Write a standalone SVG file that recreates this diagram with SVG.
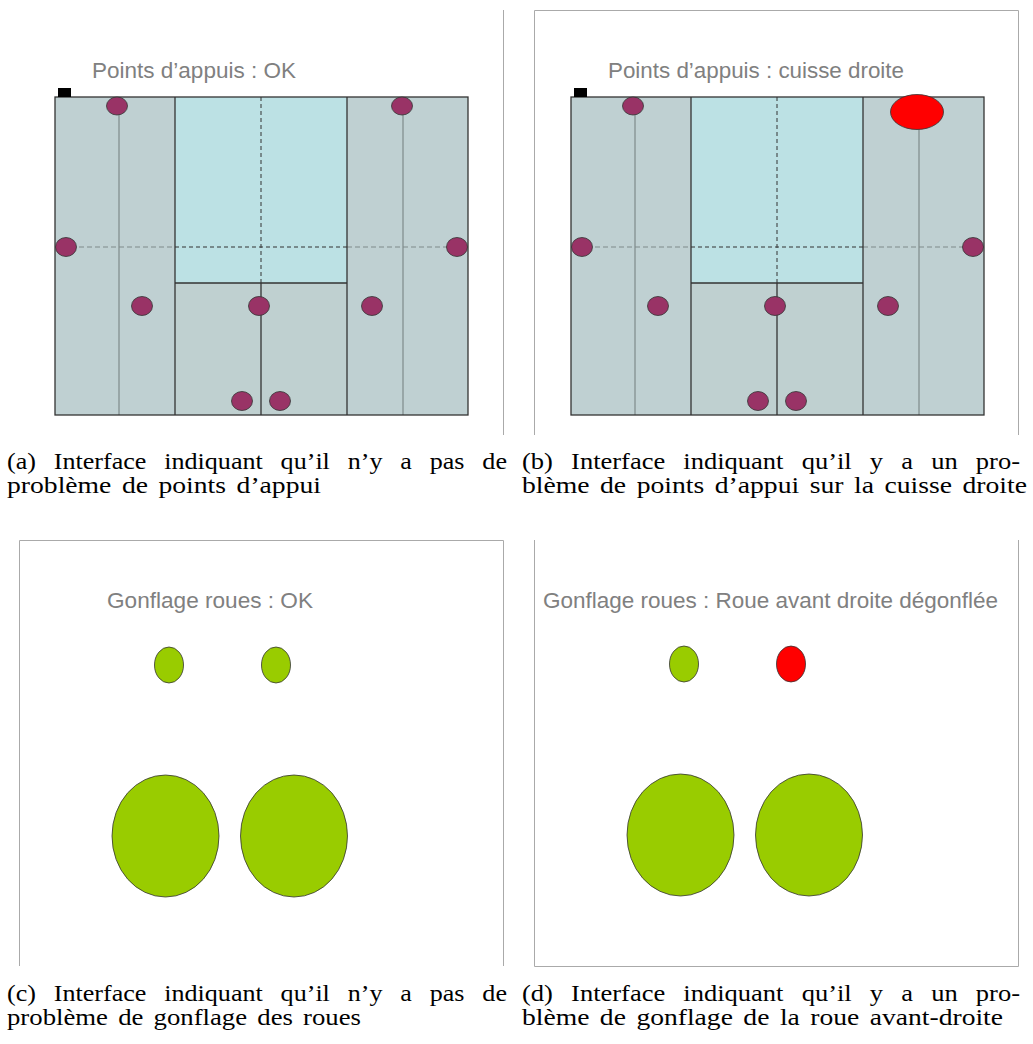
<svg xmlns="http://www.w3.org/2000/svg" width="1033" height="1044" viewBox="0 0 1033 1044">
<style>
.frame{fill:none;stroke:#aaaaaa;stroke-width:1}
.side{fill:#bfd0d2;stroke:none}
.ctop{fill:#bce1e4;stroke:none}
.cbot{fill:#bfd0d0;stroke:none}
.dark{stroke:#333333;stroke-width:1.3;fill:none}
.darkdash{stroke:#333333;stroke-width:1;stroke-dasharray:4 3;fill:none}
.gray{stroke:#7f8a8a;stroke-width:1.2;fill:none}
.graydash{stroke:#7f8a8a;stroke-width:1;stroke-dasharray:5 3;fill:none}
.pt{fill:#993366;stroke:#333333;stroke-width:0.8}
.alert{fill:#ff0000;stroke:#333333;stroke-width:0.8}
.wheel{fill:#99cc00;stroke:#333333;stroke-width:0.8}
.title{font-family:"Liberation Sans",Arial,sans-serif;font-size:21.5px;fill:#808080}
.cap{font-family:"Liberation Serif","Times New Roman",serif;font-size:23px;fill:#000000}
.j{word-spacing:10px}
.n{word-spacing:3px}
</style>
<defs>
<g id="body">
<rect class="side" x="55" y="97" width="120" height="318"/>
<rect class="side" x="347" y="97" width="121" height="318"/>
<rect class="ctop" x="175" y="97" width="172" height="186"/>
<rect class="cbot" x="175" y="283" width="172" height="132"/>
<line class="gray" x1="119" y1="97" x2="119" y2="415"/>
<line class="gray" x1="403" y1="97" x2="403" y2="415"/>
<line class="graydash" x1="55" y1="247" x2="175" y2="247"/>
<line class="graydash" x1="347" y1="247" x2="468" y2="247"/>
<line class="darkdash" x1="175" y1="247" x2="347" y2="247"/>
<line class="darkdash" x1="261" y1="97" x2="261" y2="283"/>
<line class="dark" x1="261" y1="283" x2="261" y2="415"/>
<line class="dark" x1="175" y1="283" x2="347" y2="283"/>
<line class="dark" x1="175" y1="97" x2="175" y2="415"/>
<line class="dark" x1="347" y1="97" x2="347" y2="415"/>
<rect class="dark" x="55" y="97" width="413" height="318"/>
<rect x="58" y="88" width="13" height="9" fill="#000000"/>
<ellipse class="pt" cx="117" cy="106" rx="10.5" ry="9"/>
<ellipse class="pt" cx="66" cy="247" rx="10.5" ry="9.5"/>
<ellipse class="pt" cx="457" cy="247" rx="10.5" ry="9.5"/>
<ellipse class="pt" cx="142" cy="306" rx="10.5" ry="9.5"/>
<ellipse class="pt" cx="259" cy="306" rx="10.5" ry="9.5"/>
<ellipse class="pt" cx="372" cy="306" rx="10.5" ry="9.5"/>
<ellipse class="pt" cx="242" cy="401" rx="10.5" ry="9.5"/>
<ellipse class="pt" cx="280" cy="401" rx="10.5" ry="9.5"/>
</g>
</defs>

<g id="frames">
<line class="frame" x1="503.5" y1="10" x2="503.5" y2="435"/>
<path class="frame" d="M534.5 435 V10.5 H1018.5 V435"/>
<path class="frame" d="M19.5 966 V540.5 H503.5 V966"/>
<path class="frame" d="M534.5 540 V966.5 H1018.5 V540"/>
</g>

<g id="panel-a">
<text class="title" x="92" y="78" textLength="204" lengthAdjust="spacingAndGlyphs">Points d’appuis : OK</text>
<use href="#body"/>
<ellipse class="pt" cx="402" cy="106" rx="10.5" ry="9"/>
</g>

<g id="panel-b">
<text class="title" x="608" y="78" textLength="296" lengthAdjust="spacingAndGlyphs">Points d’appuis : cuisse droite</text>
<use href="#body" transform="translate(516,0)"/>
<ellipse class="alert" cx="917" cy="112" rx="26.5" ry="17.5"/>
</g>

<g id="panel-c">
<text class="title" x="107" y="608" textLength="206" lengthAdjust="spacingAndGlyphs">Gonflage roues : OK</text>
<ellipse class="wheel" cx="169" cy="665" rx="14.5" ry="18"/>
<ellipse class="wheel" cx="276" cy="665" rx="14.5" ry="18"/>
<ellipse class="wheel" cx="165.5" cy="836" rx="53.5" ry="61"/>
<ellipse class="wheel" cx="294" cy="836" rx="53.5" ry="61"/>
</g>

<g id="panel-d">
<text class="title" x="543" y="608" textLength="455" lengthAdjust="spacingAndGlyphs">Gonflage roues : Roue avant droite dégonflée</text>
<ellipse class="wheel" cx="684" cy="664" rx="14.5" ry="18"/>
<ellipse class="alert" cx="791" cy="664" rx="14.5" ry="18"/>
<ellipse class="wheel" cx="680.5" cy="835" rx="53.5" ry="61"/>
<ellipse class="wheel" cx="809" cy="835" rx="53.5" ry="61"/>
</g>

<g id="captions">
<text class="cap j" x="7" y="469" textLength="500" lengthAdjust="spacingAndGlyphs">(a) Interface indiquant qu’il n’y a pas de</text>
<text class="cap n" x="7" y="493" textLength="314" lengthAdjust="spacingAndGlyphs">problème de points d’appui</text>
<text class="cap j" x="522" y="469" textLength="498" lengthAdjust="spacingAndGlyphs">(b) Interface indiquant qu’il y a un pro-</text>
<text class="cap n" x="522" y="493" textLength="505" lengthAdjust="spacingAndGlyphs">blème de points d’appui sur la cuisse droite</text>
<text class="cap j" x="7" y="1001" textLength="500" lengthAdjust="spacingAndGlyphs">(c) Interface indiquant qu’il n’y a pas de</text>
<text class="cap n" x="7" y="1025" textLength="354" lengthAdjust="spacingAndGlyphs">problème de gonflage des roues</text>
<text class="cap j" x="522" y="1001" textLength="498" lengthAdjust="spacingAndGlyphs">(d) Interface indiquant qu’il y a un pro-</text>
<text class="cap n" x="522" y="1025" textLength="481" lengthAdjust="spacingAndGlyphs">blème de gonflage de la roue avant-droite</text>
</g>
</svg>
